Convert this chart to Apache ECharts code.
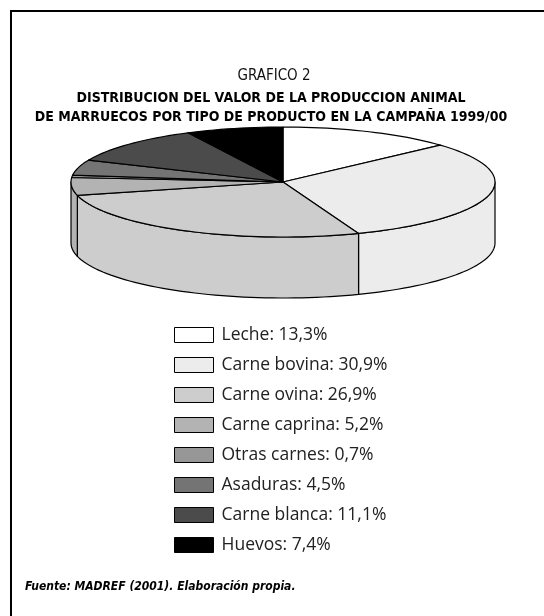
<!DOCTYPE html>
<html>
<head>
<meta charset="utf-8">
<script src="https://cdn.jsdelivr.net/npm/echarts@6/dist/echarts.min.js"></script>
<style>
  html, body { margin: 0; padding: 0; background: #fff; }
  #chart { width: 544px; height: 616px; }
</style>
</head>
<body>
<div id="chart"></div>
<script>
// datos del gráfico
const categorias = ['Leche', 'Carne bovina', 'Carne ovina', 'Carne caprina', 'Otras carnes', 'Asaduras', 'Carne blanca', 'Huevos']
const valores = [13.3, 30.9, 26.9, 5.2, 0.7, 4.5, 11.1, 7.4]
const colores = ['#ffffff', '#ececec', '#cdcdcd', '#b3b3b3', '#979797', '#747474', '#4b4b4b', '#000000']

// geometría de la tarta 3D
const cx = 283, cy = 182, rx = 212, ry = 55, depth = 61

let total = valores.reduce((a, b) => a + b, 0)
let acumulado = [0]
valores.forEach((v, i) => acumulado.push(acumulado[i] + v))

function punto(t, dy) {
  return [cx + rx * Math.sin(t), cy - ry * Math.cos(t) + (dy || 0)]
}
function arco(a, b, dy) {
  let n = Math.max(2, Math.ceil((b - a) / (Math.PI * 2) * 180))
  let pts = []
  for (let k = 0; k <= n; k++) pts.push(punto(a + (b - a) * k / n, dy))
  return pts
}

function makeRender(i) {
  return function (params, api) {
    let a = acumulado[i] / total * Math.PI * 2
    let b = a + api.value(0) / total * Math.PI * 2
    let estilo = { fill: colores[i], stroke: '#000', lineWidth: 1.2, lineJoin: 'round' }
    let children = []
    // pared frontal
    let wa = Math.max(a, Math.PI / 2), wb = Math.min(b, Math.PI * 3 / 2)
    if (wb > wa) {
      let pts = arco(wa, wb, 0).concat(arco(wa, wb, depth).reverse())
      children.push({ type: 'polygon', shape: { points: pts }, style: estilo })
    }
    // cara superior
    let top = [[cx, cy]].concat(arco(a, b, 0))
    children.push({ type: 'polygon', shape: { points: top }, style: estilo })
    return { type: 'group', children: children }
  }
}

let etiquetas = categorias.map((c, i) => c + ': ' + valores[i].toFixed(1).replace('.', ',') + '%')

let mychart = echarts.init(document.getElementById('chart'))
mychart.setOption({
  animation: false,
  title: [
    { text: 'GRAFICO 2', left: 269, top: 64, textAlign: 'center',
      textStyle: { fontFamily: 'DejaVu Sans Condensed, sans-serif', fontSize: 15, fontWeight: 'normal', color: '#111' } },
    { text: 'DISTRIBUCION DEL VALOR DE LA PRODUCCION ANIMAL\nDE MARRUECOS POR TIPO DE PRODUCTO EN LA CAMPAÑA 1999/00',
      left: 266, top: 84, textAlign: 'center',
      textStyle: { fontFamily: 'DejaVu Sans Condensed, sans-serif', fontSize: 14, fontWeight: 'bold', color: '#000', lineHeight: 19 } }
  ],
  legend: {
    orient: 'vertical',
    left: 174,
    top: 326,
    padding: 0,
    itemWidth: 39,
    itemHeight: 15,
    itemGap: 12,
    icon: 'rect',
    itemStyle: { borderColor: '#000', borderWidth: 1 },
    textStyle: { fontFamily: 'Open Sans', fontSize: 17.5, color: '#222', lineHeight: 15, padding: [0, 0, 0, 3] },
    selectedMode: false,
    data: etiquetas
  },
  graphic: [
    { type: 'polyline', shape: { points: [[11, 616], [11, 11], [544, 11]] }, style: { stroke: '#000', lineWidth: 2, fill: null } },
    { type: 'text', left: 25, top: 581,
      style: { text: 'Fuente: MADREF (2001). Elaboración propia.', font: 'italic bold 12px "DejaVu Sans Condensed", sans-serif', fill: '#000' } }
  ],
  series: categorias.map((c, i) => ({
    type: 'custom',
    name: etiquetas[i],
    coordinateSystem: 'none',
    itemStyle: { color: colores[i] },
    renderItem: makeRender(i),
    data: [[valores[i]]]
  }))
})
</script>
</body>
</html>
